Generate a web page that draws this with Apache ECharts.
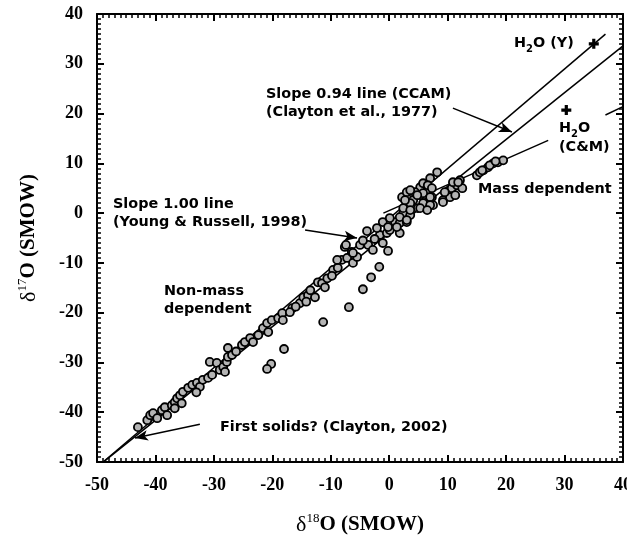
<!DOCTYPE html>
<html>
<head>
<meta charset="utf-8">
<script src="https://cdn.jsdelivr.net/npm/echarts@6/dist/echarts.min.js"></script>
<style>
  html, body { margin: 0; padding: 0; background: #fff; }
  #chart { width: 627px; height: 536px; }
</style>
</head>
<body>
<div id="chart"></div>
<script>
// δ18O / δ17O data (SMOW)
const d18O = [
  -43, -41.4, -40.9, -40.4, -39.7, -38.9, -38.4, -37.2, -36.7, -36.3, -35.8, -35.3, -35.5, -36.7,
  -34.4, -33.7, -32.9, -32.4, -31.9, -31, -30.3, -30.7, -29.5, -29, -28.4, -27.8, -27.6, -28.1,
  -27.6, -26.9, -25.2, -24.7, -23.8, -23.3, -22.4, -21.6, -20.7, -20.9, -20.1, -19, -18.3, -18.2,
  -16.6, -17, -15.3, -14.7, -13.9, -13.5, -12.7, -12.2, -11.5, -10.6, -11, -9.6, -8.8, -8.1,
  -7.6, -7.2, -6.4, -6.2, -5.5, -8.9, -7.4, -6.2, -5, -3.6, -2.8, -1.6, -0.4, 0.1, 1, 1.8,
  2.4, 3, 3.6, 1.8, -1.1, -3.8, -2.1, -1.1, 0.1, 1.8, 3, 1.3, -0.2, -4.5, -2.5, -26.2, -33,
  -38, -14.2, -16, -9.8,
  2.2, 3, 4.1, 5.3, 5.8, 7, 8.2, 6.6, 5.3, 4.1, 6.5, 7.3, 3.6, 2.4, 4.9, 7.5, 4.4, 3.6, 2.7,
  5.8, 7.3, 7, 5.8, 5.3, 3.6, 7, 6.5, 4.8,
  9.2, 9.9, 10.7, 11.6, 12.1, 10.9, 12.5, 10.4, 9.2, 11.3, 15, 16.1, 16.9, 17.8, 18.6, 19.5,
  15.5, 9.5, 11.8, 15.9, 17.2, 18.2,
  -6.9, -11.3, -18, -20.2, -20.9, -4.5, -3.1, -1.7, -0.2
];
const d17O = [
  -43, -41.6, -40.6, -40.2, -41.2, -39.6, -39, -38.6, -38, -37.2, -36.6, -35.9, -38.2, -39.2,
  -35.1, -34.5, -34.1, -34.9, -33.5, -33.1, -32.5, -29.9, -30.1, -31.5, -30.9, -29.9, -28.9, -31.9,
  -27.1, -28.5, -26.5, -25.9, -25.1, -25.9, -24.5, -23.1, -23.9, -22.1, -21.5, -21.1, -20.1, -21.5,
  -19.1, -19.9, -18.1, -16.9, -16.5, -15.5, -16.9, -13.9, -14.1, -13.1, -14.9, -11.4, -11, -9.4,
  -6.8, -9, -7.8, -10, -8.8, -9.4, -6.4, -8, -6.4, -6.4, -7.4, -4.4, -4, -3.4, -1.8, -2,
  0, -1.8, -0.4, -4, -6, -3.6, -3, -1.8, -1, -0.8, -1.4, -2.8, -2.8, -5.5, -5.2, -27.8, -36,
  -40.6, -17.8, -18.8, -12.6,
  3.2, 4.2, 4, 5.2, 6, 7, 8.2, 5.6, 3.6, 2.6, 2.2, 3.2, 2, 1, 1, 1.6, 4.2, 4.6, 2.6,
  4, 5, 3.2, 2, 1, 0.6, 1.6, 0.6, 3.6,
  2.6, 4, 5, 5.6, 6.6, 6.2, 5, 3.2, 2.2, 3.6, 7.6, 8.6, 9.2, 10, 10.2, 10.6,
  8.2, 4.2, 6.2, 8.6, 9.6, 10.4,
  -18.9, -21.9, -27.3, -30.3, -31.3, -15.3, -12.9, -10.8, -7.6
];

// reference lines (endpoints in δ18O, δ17O)
const slope100Line = [[-49, -50.04], [37, 35.96]];   // Young & Russell 1998
const slope094Line = [[-49, -50.06], [40, 33.6]];    // CCAM
const massDepLine = [[-1, 0], [27.2, 14.6]];
const massDepLine2 = [[37, 19.7], [40, 21.4]];

// water compositions
const h2oY = [35, 34];
const h2oCM = [30.3, 20.7];

// annotation arrows [from, to]
const arrows = [
  [[10.9, 21.1], [21.0, 16.3]],
  [[-14.4, -3.4], [-5.5, -5.0]],
  [[-32.4, -42.4], [-43.5, -45.2]]
];

const xTicks = { min: -50, max: 40, interval: 10 };
const yTicks = { min: -50, max: 40, interval: 10 };

const chart = echarts.init(document.getElementById('chart'));

const points = d18O.map((x, i) => [x, d17O[i]]);
const lineSeries = (data) => ({
  type: 'line',
  data: data,
  showSymbol: false,
  symbol: 'none',
  silent: true,
  lineStyle: { color: '#000', width: 1.5 },
  z: 3
});

const annFont = 'bold 14.4px "DejaVu Sans", Verdana, sans-serif';
const subStyle = { font: 'bold 10px "DejaVu Sans", sans-serif', fill: '#000', verticalAlign: 'bottom', lineHeight: 10 };
const baseStyle = { font: annFont, fill: '#000', verticalAlign: 'middle', lineHeight: 22 };

const nameRich = () => ({
  d: { fontFamily: 'Liberation Serif', fontSize: 22, color: '#000' },
  s: { fontFamily: 'Liberation Serif', fontSize: 13, color: '#000', verticalAlign: 'top', lineHeight: 26 },
  o: { fontFamily: 'Liberation Serif', fontSize: 21, fontWeight: 'bold', color: '#000' }
});

// fresh axis object each time (ticks inside on all four sides)
const makeAxis = (range, extra) => Object.assign({
  type: 'value',
  min: range.min,
  max: range.max,
  interval: range.interval,
  axisLine: { show: true, onZero: false, lineStyle: { color: '#000', width: 2 } },
  axisTick: { show: true, inside: true, length: 7, lineStyle: { color: '#000', width: 2 } },
  minorTick: { show: true, splitNumber: 10, length: 4, lineStyle: { color: '#000', width: 1.5 } },
  splitLine: { show: false },
  minorSplitLine: { show: false },
  axisLabel: {
    margin: 14,
    color: '#000',
    fontFamily: 'Liberation Serif',
    fontWeight: 'bold',
    fontSize: 18
  }
}, extra);

const options = {
  animation: false,
  backgroundColor: '#fff',
  grid: { left: 97, right: 4, top: 14, bottom: 74, outerBoundsMode: 'none', containLabel: false },
  xAxis: [
    makeAxis(xTicks, {
      position: 'bottom',
      name: '{d|δ}{s|18}{o|O (SMOW)}',
      nameLocation: 'middle',
      nameGap: 50,
      nameTextStyle: { rich: nameRich() }
    }),
    makeAxis(xTicks, { position: 'top', axisLabel: { show: false } })
  ],
  yAxis: [
    makeAxis(yTicks, {
      position: 'left',
      name: '{d|δ}{s|17}{o|O (SMOW)}',
      nameLocation: 'middle',
      nameGap: 55,
      nameRotate: 90,
      nameTextStyle: { rich: nameRich() }
    }),
    makeAxis(yTicks, { position: 'right', axisLabel: { show: false } })
  ],
  series: [
    lineSeries(slope100Line),
    lineSeries(slope094Line),
    lineSeries(massDepLine),
    Object.assign(lineSeries(massDepLine2), {
      markLine: {
        silent: true,
        symbol: ['none', 'arrow'],
        symbolSize: [8, 13],
        label: { show: false },
        lineStyle: { color: '#000', width: 1.5, type: 'solid' },
        data: arrows.map(a => [{ coord: a[0] }, { coord: a[1] }])
      }
    }),
    {
      type: 'scatter',
      data: points,
      symbol: 'circle',
      symbolSize: 8,
      itemStyle: { color: '#b4b4b4', borderColor: '#000', borderWidth: 1.8, opacity: 1 },
      z: 4
    },
    {
      type: 'scatter',
      data: [h2oY, h2oCM],
      symbol: 'path://M3.4,0H6.6V3.4H10V6.6H6.6V10H3.4V6.6H0V3.4H3.4Z',
      symbolSize: 10,
      itemStyle: { color: '#000', opacity: 1 },
      z: 5
    },
    // empty series so the mirrored top/right axes are bound
    { type: 'scatter', xAxisIndex: 1, yAxisIndex: 1, data: [], silent: true }
  ],
  graphic: [
    { type: 'text', x: 514, y: 43, style: { text: '{a|H}{b|2}{a|O (Y)}', font: annFont, fill: '#000', verticalAlign: 'middle',
      rich: { a: baseStyle, b: subStyle } } },
    { type: 'text', x: 266, y: 85, style: { text: 'Slope 0.94 line (CCAM)\n(Clayton et al., 1977)', font: annFont, fill: '#000', lineHeight: 18 } },
    { type: 'text', x: 559, y: 128, style: { text: '{a|H}{b|2}{a|O}', font: annFont, fill: '#000', verticalAlign: 'middle',
      rich: { a: baseStyle, b: subStyle } } },
    { type: 'text', x: 559, y: 147, style: { text: '(C&M)', font: annFont, fill: '#000', verticalAlign: 'middle' } },
    { type: 'text', x: 478, y: 189, style: { text: 'Mass dependent', font: annFont, fill: '#000', verticalAlign: 'middle' } },
    { type: 'text', x: 113, y: 195, style: { text: 'Slope 1.00 line\n(Young & Russell, 1998)', font: annFont, fill: '#000', lineHeight: 18 } },
    { type: 'text', x: 164, y: 282, style: { text: 'Non-mass\ndependent', font: annFont, fill: '#000', lineHeight: 18 } },
    { type: 'text', x: 220, y: 427, style: { text: 'First solids? (Clayton, 2002)', font: annFont, fill: '#000', verticalAlign: 'middle' } }
  ]
};

chart.setOption(options);
</script>
</body>
</html>
